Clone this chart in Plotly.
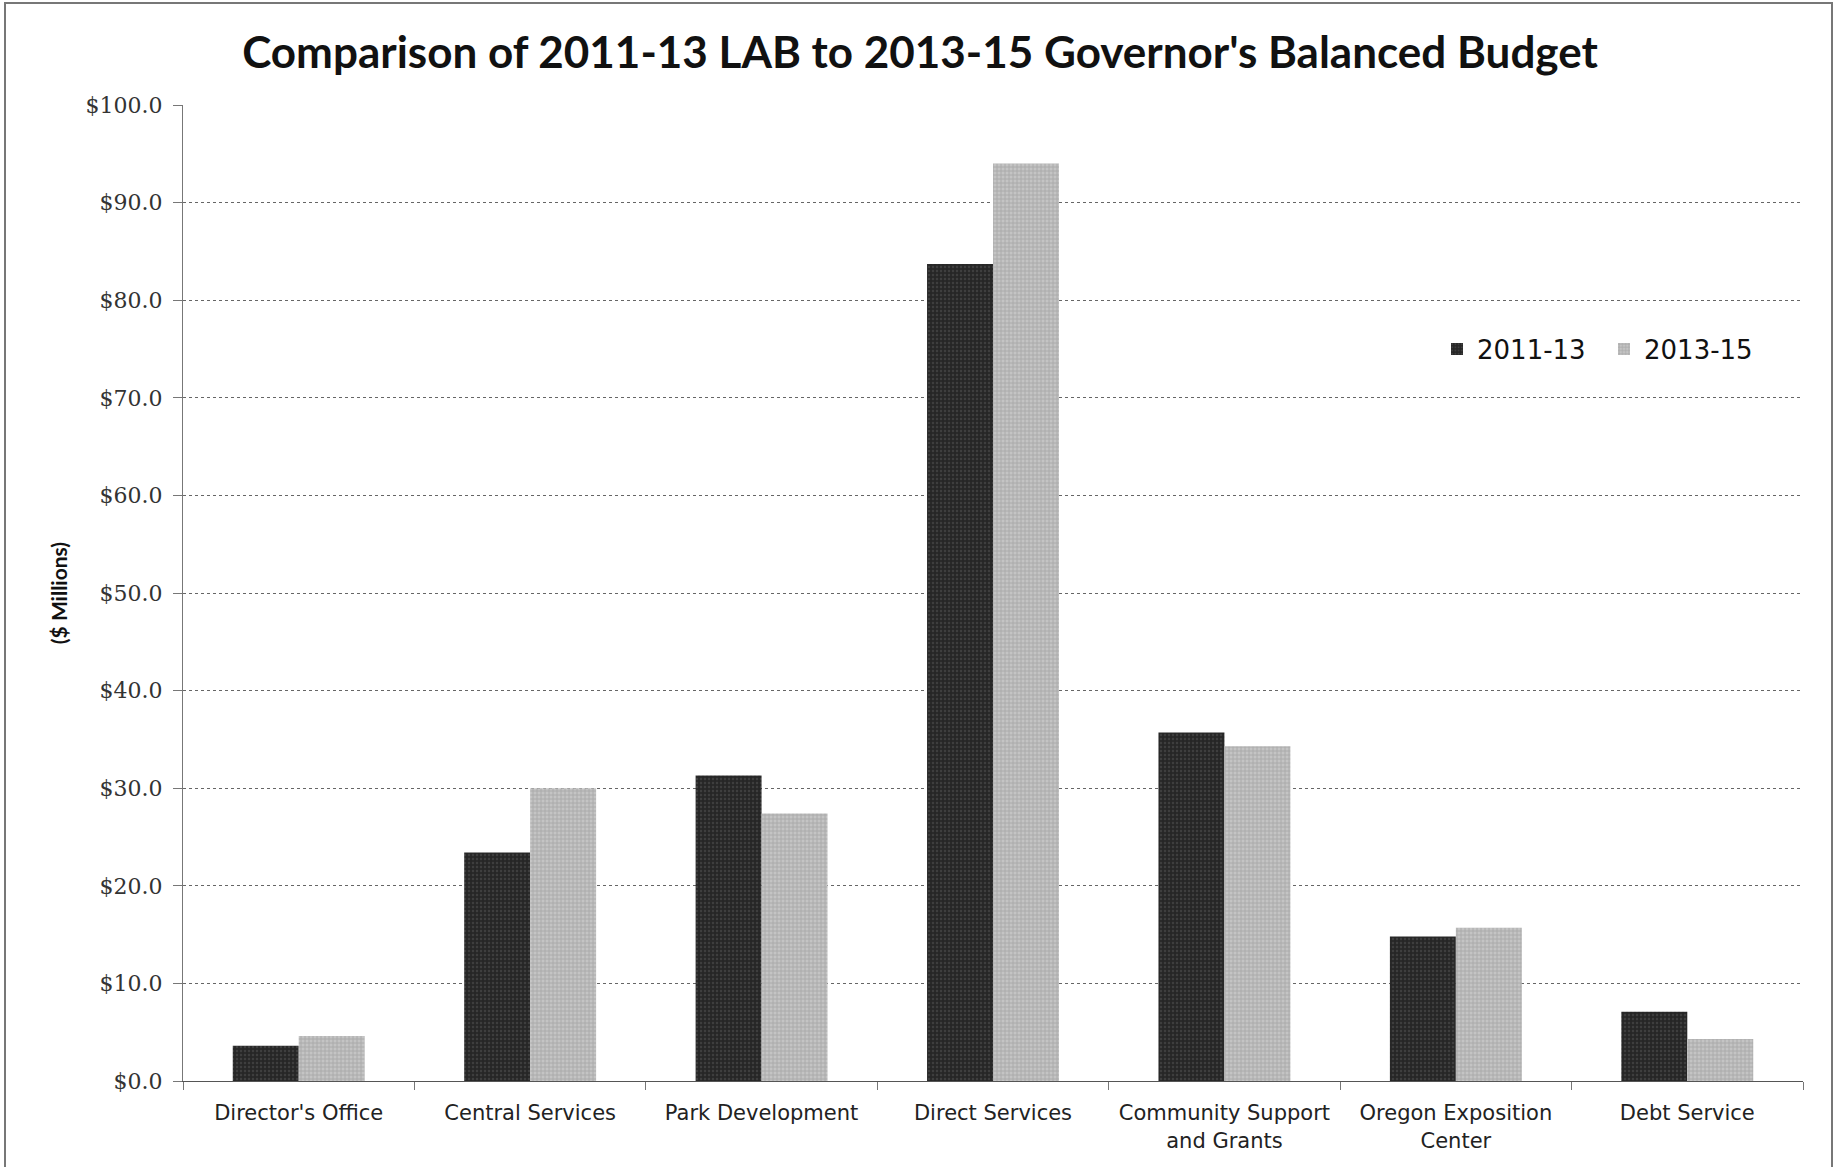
import plotly.graph_objects as go

categories = ["Director's Office", "Central Services", "Park Development", "Direct Services",
              "Community Support<br>and Grants", "Oregon Exposition<br>Center", "Debt Service"]
values_2011_13 = [3.6, 23.4, 31.3, 83.7, 35.7, 14.8, 7.1]
values_2013_15 = [4.6, 30.0, 27.4, 94.0, 34.3, 15.7, 4.3]
y_ticks = [0, 10, 20, 30, 40, 50, 60, 70, 80, 90, 100]
y_tick_labels = ["$%.1f" % v for v in y_ticks]

W, H = 1837, 1167
L, R, T, B = 183, 34, 105, 86

fig = go.Figure()
fig.add_trace(go.Bar(name="2011-13", x=categories, y=values_2011_13,
                     marker=dict(color="#2b2b2b", line=dict(width=0),
                                 pattern=dict(shape=".", fgcolor="#555555", bgcolor="#262626", size=4, solidity=0.3))))
fig.add_trace(go.Bar(name="2013-15", x=categories, y=values_2013_15,
                     marker=dict(color="#a9a9a9", line=dict(width=0),
                                 pattern=dict(shape="+", fgcolor="#8c8c8c", bgcolor="#c4c4c4", size=4, solidity=0.4))))

pw = W - L - R
ph = H - T - B
fig.add_shape(type="rect", xref="paper", yref="paper",
              x0=(5 - L) / pw, x1=(1832 - L) / pw, y0=-(B + 5) / ph, y1=1 + (T - 3) / ph,
              line=dict(color="#777777", width=2), layer="below")

fig.update_layout(
    width=W, height=H,
    margin=dict(l=L, r=R, t=T, b=B),
    paper_bgcolor="white", plot_bgcolor="white",
    barmode="group", bargap=0.43, bargroupgap=0,
    title=dict(text="<b>Comparison of 2011-13 LAB to 2013-15 Governor's Balanced Budget</b>",
               x=920 / W, xanchor="center", y=1 - 53 / H, yanchor="middle",
               font=dict(family="Lato", size=44, color="#111111")),
    font=dict(family="DejaVu Sans", color="#222222"),
    legend=dict(orientation="h", x=(1437 - L) / pw, xanchor="left", y=1 - (349 - T) / ph, yanchor="middle",
                font=dict(family="DejaVu Sans", size=26, color="#111111"), bgcolor="rgba(0,0,0,0)",
                itemwidth=30, traceorder="normal", entrywidth=122),
    xaxis=dict(type="category", showgrid=False, showline=True, linecolor="#555555", linewidth=1,
               ticks="outside", tickson="boundaries", ticklen=8, tickcolor="#777777",
               ticklabelstandoff=13,
               tickfont=dict(family="DejaVu Sans", size=21, color="#222222")),
    yaxis=dict(range=[0, 100], tickvals=y_ticks, ticktext=y_tick_labels,
               showgrid=True, gridcolor="#666666", griddash="dot", gridwidth=1,
               showline=True, linecolor="#777777", linewidth=1, ticks="outside", ticklen=9,
               tickcolor="#777777", zeroline=False, ticklabelstandoff=6,
               tickfont=dict(family="DejaVu Serif", size=22, color="#333333"),
               title=dict(text="<b>($ Millions)</b>", font=dict(family="Lato", size=21, color="#111111"),
                          standoff=12)),
)

fig.write_html("out.html")
